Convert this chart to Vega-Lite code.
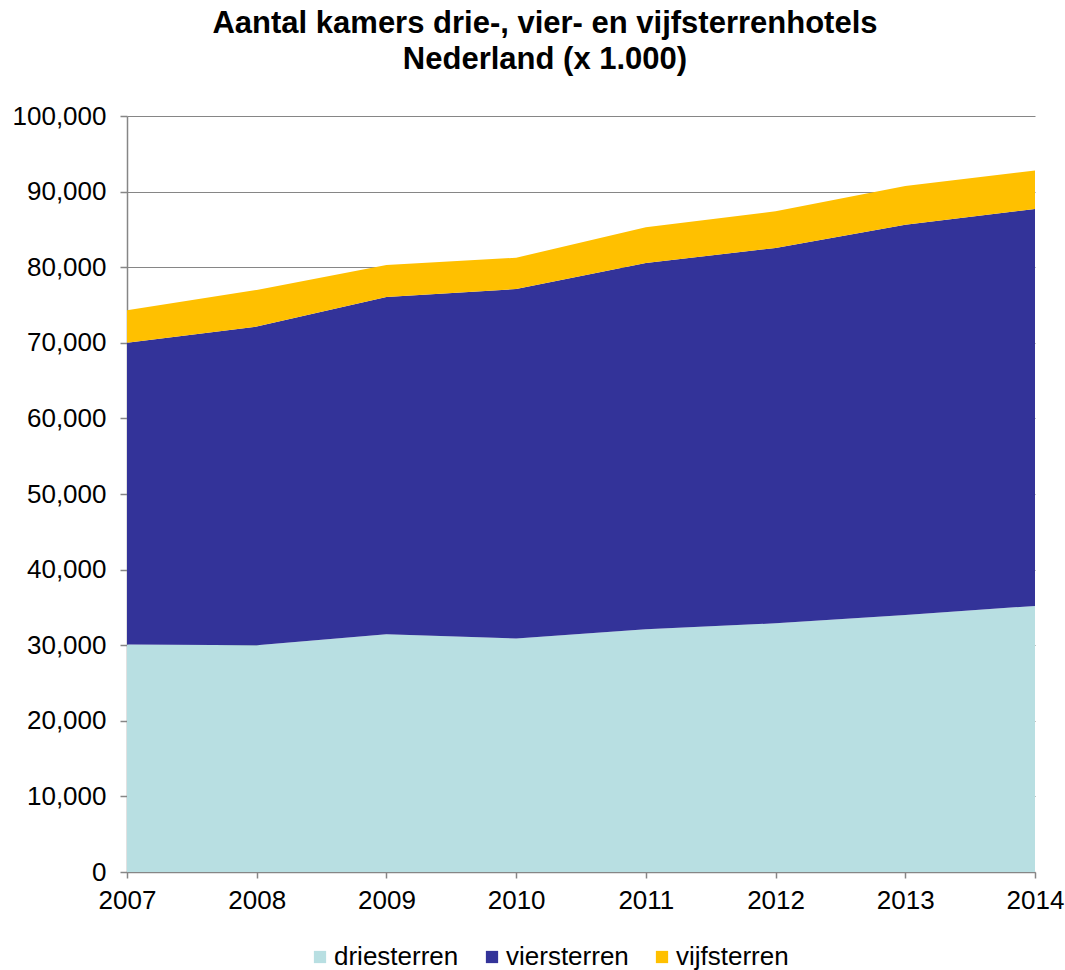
{
  "$schema": "https://vega.github.io/schema/vega-lite/v6.json",
  "autosize": {"type": "none"},
  "width": 908,
  "height": 756,
  "padding": {"left": 127, "top": 116, "right": 30, "bottom": 98},
  "background": "white",
  "title": {
    "text": ["Aantal kamers drie-, vier- en vijfsterrenhotels", "Nederland (x 1.000)"],
    "font": "Liberation Sans",
    "fontSize": 31,
    "fontWeight": "bold",
    "color": "#000000",
    "anchor": "middle",
    "dx": -36,
    "offset": 27,
    "lineHeight": 36
  },
  "data": {
    "values": [
      {"jaar": 2007, "categorie": "driesterren", "kamers": 30100},
      {"jaar": 2008, "categorie": "driesterren", "kamers": 30000},
      {"jaar": 2009, "categorie": "driesterren", "kamers": 31450},
      {"jaar": 2010, "categorie": "driesterren", "kamers": 30900},
      {"jaar": 2011, "categorie": "driesterren", "kamers": 32100},
      {"jaar": 2012, "categorie": "driesterren", "kamers": 32900},
      {"jaar": 2013, "categorie": "driesterren", "kamers": 34000},
      {"jaar": 2014, "categorie": "driesterren", "kamers": 35200},
      {"jaar": 2007, "categorie": "viersterren", "kamers": 39900},
      {"jaar": 2008, "categorie": "viersterren", "kamers": 42150},
      {"jaar": 2009, "categorie": "viersterren", "kamers": 44600},
      {"jaar": 2010, "categorie": "viersterren", "kamers": 46200},
      {"jaar": 2011, "categorie": "viersterren", "kamers": 48450},
      {"jaar": 2012, "categorie": "viersterren", "kamers": 49650},
      {"jaar": 2013, "categorie": "viersterren", "kamers": 51600},
      {"jaar": 2014, "categorie": "viersterren", "kamers": 52500},
      {"jaar": 2007, "categorie": "vijfsterren", "kamers": 4300},
      {"jaar": 2008, "categorie": "vijfsterren", "kamers": 4850},
      {"jaar": 2009, "categorie": "vijfsterren", "kamers": 4250},
      {"jaar": 2010, "categorie": "vijfsterren", "kamers": 4150},
      {"jaar": 2011, "categorie": "vijfsterren", "kamers": 4750},
      {"jaar": 2012, "categorie": "vijfsterren", "kamers": 4850},
      {"jaar": 2013, "categorie": "vijfsterren", "kamers": 5150},
      {"jaar": 2014, "categorie": "vijfsterren", "kamers": 5100}
    ]
  },
  "mark": {"type": "area", "opacity": 1},
  "encoding": {
    "x": {
      "field": "jaar",
      "type": "quantitative",
      "scale": {"domain": [2007, 2014], "nice": false, "zero": false},
      "axis": {
        "title": null,
        "values": [2007, 2008, 2009, 2010, 2011, 2012, 2013, 2014],
        "format": "d",
        "grid": false,
        "domainColor": "#868686",
        "domainWidth": 1.5,
        "tickColor": "#868686",
        "tickSize": 6,
        "tickWidth": 1.5,
        "labelFont": "Liberation Sans",
        "labelFontSize": 26,
        "labelColor": "#000000",
        "labelPadding": 9,
        "labelFlush": false
      }
    },
    "y": {
      "field": "kamers",
      "type": "quantitative",
      "stack": "zero",
      "scale": {"domain": [0, 100000], "nice": false},
      "axis": {
        "title": null,
        "values": [0, 10000, 20000, 30000, 40000, 50000, 60000, 70000, 80000, 90000, 100000],
        "format": ",d",
        "grid": true,
        "gridColor": "#868686",
        "gridWidth": 1,
        "domainColor": "#868686",
        "domainWidth": 1.5,
        "tickColor": "#868686",
        "tickSize": 7,
        "tickWidth": 1.5,
        "labelFont": "Liberation Sans",
        "labelFontSize": 26,
        "labelColor": "#000000",
        "labelPadding": 14
      }
    },
    "color": {
      "field": "categorie",
      "type": "nominal",
      "scale": {
        "domain": ["driesterren", "viersterren", "vijfsterren"],
        "range": ["#B8DFE2", "#333399", "#FFC000"]
      },
      "legend": {
        "title": null,
        "orient": "none",
        "direction": "horizontal",
        "legendX": 180,
        "legendY": 828,
        "symbolType": "square",
        "symbolSize": 150,
        "symbolStrokeWidth": 0,
        "labelFont": "Liberation Sans",
        "labelFontSize": 26,
        "labelColor": "#000000",
        "labelOffset": 1,
        "columnPadding": 20
      }
    },
    "order": {"field": "categorie", "sort": "ascending"}
  },
  "config": {"view": {"stroke": null}}
}
